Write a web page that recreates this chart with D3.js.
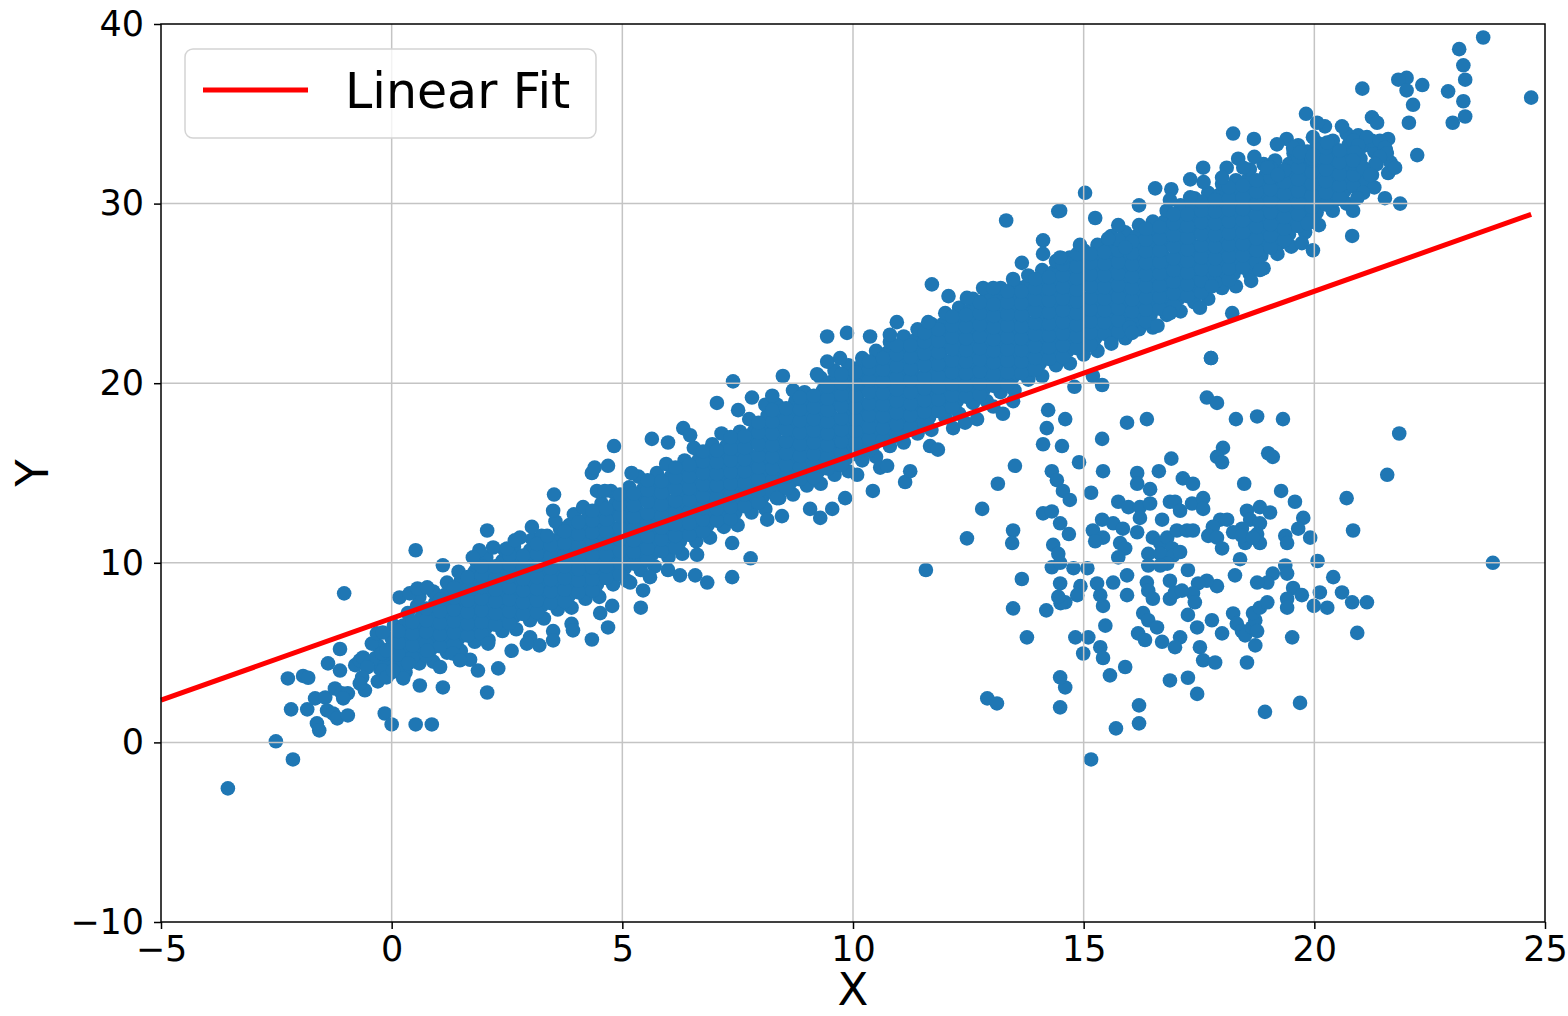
<!doctype html>
<html lang="en">
<head>
    <meta charset="utf-8">
    <title>Linear Fit</title>
	<style>
html, body {
	margin: 0;
	padding: 0;
	width: 100%;
	height: 100%;
	overflow: hidden;
	background-color: white;
	font-family: 'DejaVu Sans', 'Liberation Sans', sans-serif;
	color: #000;
}

#container {
	position: absolute;
	top: 0;
	right: 0;
	bottom: 0;
	left: 0;
}

svg {
	display: block;
}

svg .grid line {
	stroke: #c4c4c4;
	stroke-width: 1.5px;
}

svg .axis path {
	display: none;
}

svg .axis line {
	stroke: #000;
	stroke-width: 1.5px;
}

svg .axis text {
	font-family: 'DejaVu Sans';
	font-size: 35px;
	fill: #000;
}

svg circle {
	fill: #1f77b4;
}

svg .fit {
	stroke: #ff0000;
	stroke-width: 5px;
	fill: none;
}

svg .frame {
	fill: none;
	stroke: #000;
	stroke-width: 1.5px;
}

svg .label {
	font-family: 'DejaVu Sans';
	font-size: 45px;
	fill: #000;
}
	</style>
</head>
<body>
    <div id="container"></div>

	<script src="https://cdnjs.cloudflare.com/ajax/libs/d3/7.8.5/d3.min.js"></script>
	<script>
/* DATA */

var xDomain = [-5, 25];
var yDomain = [-10, 40];
var xTicks = [-5, 0, 5, 10, 15, 20, 25];
var yTicks = [-10, 0, 10, 20, 30, 40];
var xLabel = 'X';
var yLabel = 'Y';
var legendLabel = 'Linear Fit';

// fitted line, end points
var fitX = [-5, 24.7];
var fitY = [2.35, 29.4];

// dense part of the main band
var coreBand = [
[-0.3,3.4],[-0.25,4.1],[-0.35,4.7],[-0.3,5.4],
[0.0,3.9],[0.05,4.5],[-0.05,5.2],[0.0,5.8],[0.05,6.5],
[0.3,3.9],[0.25,4.6],[0.35,5.2],[0.3,5.9],[0.25,6.5],[0.35,7.2],
[0.6,4.4],[0.65,5.0],[0.55,5.7],[0.6,6.3],[0.65,7.0],[0.55,7.6],[0.6,8.1],
[0.9,4.5],[0.85,5.2],[0.95,5.8],[0.9,6.5],[0.85,7.1],[0.95,7.8],[0.9,8.4],
[1.2,5.0],[1.25,5.6],[1.15,6.3],[1.2,6.9],[1.25,7.6],[1.15,8.2],[1.2,8.9],
[1.5,5.1],[1.45,5.8],[1.55,6.4],[1.5,7.1],[1.45,7.7],[1.55,8.4],[1.5,9.0],[1.45,9.5],
[1.8,5.6],[1.85,6.2],[1.75,6.9],[1.8,7.5],[1.85,8.2],[1.75,8.8],[1.8,9.5],[1.85,10.0],
[2.1,5.7],[2.05,6.4],[2.15,7.0],[2.1,7.7],[2.05,8.3],[2.15,9.0],[2.1,9.6],[2.05,10.3],
[2.4,6.2],[2.45,6.8],[2.35,7.5],[2.4,8.1],[2.45,8.8],[2.35,9.4],[2.4,10.1],[2.45,10.7],
[2.7,6.3],[2.65,7.0],[2.75,7.6],[2.7,8.3],[2.65,8.9],[2.75,9.6],[2.7,10.2],[2.65,10.9],
[3.0,6.8],[3.05,7.4],[2.95,8.1],[3.0,8.7],[3.05,9.4],[2.95,10.0],[3.0,10.7],[3.05,11.3],
[3.3,6.9],[3.25,7.6],[3.35,8.2],[3.3,8.9],[3.25,9.5],[3.35,10.2],[3.3,10.8],[3.25,11.5],
[3.6,7.4],[3.65,8.0],[3.55,8.7],[3.6,9.3],[3.65,10.0],[3.55,10.6],[3.6,11.3],[3.65,11.9],[3.55,12.3],
[3.9,7.5],[3.85,8.2],[3.95,8.8],[3.9,9.5],[3.85,10.1],[3.95,10.8],[3.9,11.4],[3.85,12.1],[3.95,12.7],
[4.2,8.0],[4.25,8.6],[4.15,9.3],[4.2,9.9],[4.25,10.6],[4.15,11.2],[4.2,11.9],[4.25,12.5],[4.15,13.1],
[4.5,8.1],[4.45,8.8],[4.55,9.4],[4.5,10.1],[4.45,10.7],[4.55,11.4],[4.5,12.0],[4.45,12.7],[4.55,13.3],
[4.8,8.8],[4.85,9.4],[4.75,10.1],[4.8,10.7],[4.85,11.4],[4.75,12.0],[4.8,12.7],[4.85,13.3],[4.75,14.0],
[5.1,9.0],[5.05,9.7],[5.15,10.3],[5.1,11.0],[5.05,11.6],[5.15,12.3],[5.1,12.9],[5.05,13.6],[5.15,14.2],
[5.4,9.6],[5.45,10.2],[5.35,10.9],[5.4,11.5],[5.45,12.2],[5.35,12.8],[5.4,13.5],[5.45,14.1],[5.35,14.8],
[5.7,9.8],[5.65,10.5],[5.75,11.1],[5.7,11.8],[5.65,12.4],[5.75,13.1],[5.7,13.7],[5.65,14.4],[5.75,15.0],
[6.0,10.3],[6.05,10.9],[5.95,11.6],[6.0,12.2],[6.05,12.9],[5.95,13.5],[6.0,14.2],[6.05,14.8],[5.95,15.5],
[6.3,10.5],[6.25,11.2],[6.35,11.8],[6.3,12.5],[6.25,13.1],[6.35,13.8],[6.3,14.4],[6.25,15.1],[6.35,15.7],
[6.6,11.2],[6.65,11.8],[6.55,12.5],[6.6,13.1],[6.65,13.8],[6.55,14.4],[6.6,15.1],[6.65,15.7],[6.55,16.4],
[6.9,11.4],[6.85,12.1],[6.95,12.7],[6.9,13.4],[6.85,14.0],[6.95,14.7],[6.9,15.3],[6.85,16.0],[6.95,16.6],
[7.2,12.0],[7.25,12.6],[7.15,13.3],[7.2,13.9],[7.25,14.6],[7.15,15.2],[7.2,15.9],[7.25,16.5],[7.15,17.2],
[7.5,12.1],[7.45,12.8],[7.55,13.4],[7.5,14.1],[7.45,14.7],[7.55,15.4],[7.5,16.0],[7.45,16.7],[7.55,17.3],
[7.8,12.8],[7.85,13.4],[7.75,14.1],[7.8,14.7],[7.85,15.4],[7.75,16.0],[7.8,16.7],[7.85,17.3],[7.75,18.0],
[8.1,13.0],[8.05,13.7],[8.15,14.3],[8.1,15.0],[8.05,15.6],[8.15,16.3],[8.1,16.9],[8.05,17.6],[8.15,18.2],[8.1,18.8],
[8.4,13.6],[8.45,14.2],[8.35,14.9],[8.4,15.5],[8.45,16.2],[8.35,16.8],[8.4,17.5],[8.45,18.1],[8.35,18.8],
[8.7,13.8],[8.65,14.5],[8.75,15.1],[8.7,15.8],[8.65,16.4],[8.75,17.1],[8.7,17.7],[8.65,18.4],[8.75,19.0],[8.7,19.6],
[9.0,14.3],[9.05,14.9],[8.95,15.6],[9.0,16.2],[9.05,16.9],[8.95,17.5],[9.0,18.2],[9.05,18.8],[8.95,19.5],
[9.3,14.4],[9.25,15.1],[9.35,15.7],[9.3,16.4],[9.25,17.0],[9.35,17.7],[9.3,18.3],[9.25,19.0],[9.35,19.6],[9.3,20.3],
[9.6,14.9],[9.65,15.5],[9.55,16.2],[9.6,16.8],[9.65,17.5],[9.55,18.1],[9.6,18.8],[9.65,19.4],[9.55,20.1],[9.6,20.7],
[9.9,15.1],[9.85,15.8],[9.95,16.4],[9.9,17.1],[9.85,17.7],[9.95,18.4],[9.9,19.0],[9.85,19.7],[9.95,20.3],[9.9,21.0],
[10.2,15.7],[10.25,16.3],[10.15,17.0],[10.2,17.6],[10.25,18.3],[10.15,18.9],[10.2,19.6],[10.25,20.2],[10.15,20.9],[10.2,21.4],
[10.5,15.9],[10.45,16.6],[10.55,17.2],[10.5,17.9],[10.45,18.5],[10.55,19.2],[10.5,19.8],[10.45,20.5],[10.55,21.1],[10.5,21.8],
[10.8,16.5],[10.85,17.1],[10.75,17.8],[10.8,18.4],[10.85,19.1],[10.75,19.7],[10.8,20.4],[10.85,21.0],[10.75,21.7],[10.8,22.3],
[11.1,16.7],[11.05,17.4],[11.15,18.0],[11.1,18.7],[11.05,19.3],[11.15,20.0],[11.1,20.6],[11.05,21.3],[11.15,21.9],[11.1,22.6],
[11.4,17.2],[11.45,17.8],[11.35,18.5],[11.4,19.1],[11.45,19.8],[11.35,20.4],[11.4,21.1],[11.45,21.7],[11.35,22.4],[11.4,23.0],
[11.7,17.4],[11.65,18.1],[11.75,18.7],[11.7,19.4],[11.65,20.0],[11.75,20.7],[11.7,21.3],[11.65,22.0],[11.75,22.6],[11.7,23.3],
[12.0,18.1],[12.05,18.7],[11.95,19.4],[12.0,20.0],[12.05,20.7],[11.95,21.3],[12.0,22.0],[12.05,22.6],[11.95,23.3],[12.0,23.9],
[12.3,18.3],[12.25,19.0],[12.35,19.6],[12.3,20.3],[12.25,20.9],[12.35,21.6],[12.3,22.2],[12.25,22.9],[12.35,23.5],[12.3,24.2],
[12.6,18.9],[12.65,19.5],[12.55,20.2],[12.6,20.8],[12.65,21.5],[12.55,22.1],[12.6,22.8],[12.65,23.4],[12.55,24.1],[12.6,24.7],
[12.9,19.0],[12.85,19.7],[12.95,20.3],[12.9,21.0],[12.85,21.6],[12.95,22.3],[12.9,22.9],[12.85,23.6],[12.95,24.2],[12.9,24.9],
[13.2,19.5],[13.25,20.1],[13.15,20.8],[13.2,21.4],[13.25,22.1],[13.15,22.7],[13.2,23.4],[13.25,24.0],[13.15,24.7],[13.2,25.3],
[13.5,19.6],[13.45,20.3],[13.55,20.9],[13.5,21.6],[13.45,22.2],[13.55,22.9],[13.5,23.5],[13.45,24.2],[13.55,24.8],[13.5,25.5],
[13.8,20.2],[13.85,20.8],[13.75,21.5],[13.8,22.1],[13.85,22.8],[13.75,23.4],[13.8,24.1],[13.85,24.7],[13.75,25.4],[13.8,26.0],
[14.1,20.4],[14.05,21.1],[14.15,21.7],[14.1,22.4],[14.05,23.0],[14.15,23.7],[14.1,24.3],[14.05,25.0],[14.15,25.6],[14.1,26.3],
[14.4,21.0],[14.45,21.6],[14.35,22.3],[14.4,22.9],[14.45,23.6],[14.35,24.2],[14.4,24.9],[14.45,25.5],[14.35,26.2],[14.4,26.8],
[14.7,21.1],[14.65,21.8],[14.75,22.4],[14.7,23.1],[14.65,23.7],[14.75,24.4],[14.7,25.0],[14.65,25.7],[14.75,26.3],[14.7,27.0],
[15.0,21.6],[15.05,22.2],[14.95,22.9],[15.0,23.5],[15.05,24.2],[14.95,24.8],[15.0,25.5],[15.05,26.1],[14.95,26.8],[15.0,27.4],
[15.3,21.8],[15.25,22.5],[15.35,23.1],[15.3,23.8],[15.25,24.4],[15.35,25.1],[15.3,25.7],[15.25,26.4],[15.35,27.0],[15.3,27.7],
[15.6,22.4],[15.65,23.0],[15.55,23.7],[15.6,24.3],[15.65,25.0],[15.55,25.6],[15.6,26.3],[15.65,26.9],[15.55,27.6],[15.6,28.2],
[15.9,22.5],[15.85,23.2],[15.95,23.8],[15.9,24.5],[15.85,25.1],[15.95,25.8],[15.9,26.4],[15.85,27.1],[15.95,27.7],[15.9,28.4],
[16.2,23.0],[16.25,23.6],[16.15,24.3],[16.2,24.9],[16.25,25.6],[16.15,26.2],[16.2,26.9],[16.25,27.5],[16.15,28.2],[16.2,28.8],
[16.5,23.1],[16.45,23.8],[16.55,24.4],[16.5,25.1],[16.45,25.7],[16.55,26.4],[16.5,27.0],[16.45,27.7],[16.55,28.3],[16.5,29.0],
[16.8,23.8],[16.85,24.4],[16.75,25.1],[16.8,25.7],[16.85,26.4],[16.75,27.0],[16.8,27.7],[16.85,28.3],[16.75,29.0],[16.8,29.6],
[17.1,24.0],[17.05,24.7],[17.15,25.3],[17.1,26.0],[17.05,26.6],[17.15,27.3],[17.1,27.9],[17.05,28.6],[17.15,29.2],[17.1,29.9],
[17.4,24.5],[17.45,25.1],[17.35,25.8],[17.4,26.4],[17.45,27.1],[17.35,27.7],[17.4,28.4],[17.45,29.0],[17.35,29.7],[17.4,30.3],
[17.7,24.7],[17.65,25.4],[17.75,26.0],[17.7,26.7],[17.65,27.3],[17.75,28.0],[17.7,28.6],[17.65,29.3],[17.75,29.9],[17.7,30.6],
[18.0,25.3],[18.05,25.9],[17.95,26.6],[18.0,27.2],[18.05,27.9],[17.95,28.5],[18.0,29.2],[18.05,29.8],[17.95,30.5],[18.0,31.1],
[18.3,25.4],[18.25,26.1],[18.35,26.7],[18.3,27.4],[18.25,28.0],[18.35,28.7],[18.3,29.3],[18.25,30.0],[18.35,30.6],[18.3,31.3],
[18.6,26.1],[18.65,26.7],[18.55,27.4],[18.6,28.0],[18.65,28.7],[18.55,29.3],[18.6,30.0],[18.65,30.6],[18.55,31.3],[18.6,31.9],
[18.9,26.4],[18.85,27.1],[18.95,27.7],[18.9,28.4],[18.85,29.0],[18.95,29.7],[18.9,30.3],[18.85,31.0],[18.95,31.6],[18.9,32.2],
[19.2,27.2],[19.25,27.8],[19.15,28.5],[19.2,29.1],[19.25,29.8],[19.15,30.4],[19.2,31.1],[19.25,31.7],[19.15,32.4],
[19.5,27.6],[19.45,28.3],[19.55,28.9],[19.5,29.6],[19.45,30.2],[19.55,30.9],[19.5,31.5],[19.45,32.2],[19.55,32.8],
[19.8,28.4],[19.85,29.0],[19.75,29.7],[19.8,30.3],[19.85,31.0],[19.75,31.6],[19.8,32.3],[19.85,32.9],
[20.1,28.8],[20.05,29.5],[20.15,30.1],[20.1,30.8],[20.05,31.4],[20.15,32.1],[20.1,32.7],[20.05,33.4],
[20.4,29.6],[20.45,30.2],[20.35,30.9],[20.4,31.5],[20.45,32.2],[20.35,32.8],[20.4,33.5],
[20.7,30.0],[20.65,30.7],[20.75,31.3],[20.7,32.0],[20.65,32.6],[20.75,33.3],[20.7,33.9],
[21.0,30.6],[21.05,31.2],[20.95,31.9],[21.0,32.5],[21.05,33.2],[20.95,33.8],
[21.3,30.9],[21.25,31.6],[21.35,32.2],[21.3,32.9],[21.25,33.5],
[21.6,31.7],[21.65,32.3],[21.55,33.0],[21.6,33.6]
];

// points packed between the core columns, where the band reads as solid
var coreFill = [
[-0.15,4.25],[-0.15,4.9],
[0.15,4.25],[0.15,4.9],[0.15,5.55],[0.15,6.2],
[0.45,4.75],[0.45,5.4],[0.45,6.05],[0.45,6.7],
[0.75,4.85],[0.75,5.5],[0.75,6.15],[0.75,6.8],[0.75,7.45],
[1.05,5.35],[1.05,6.0],[1.05,6.65],[1.05,7.3],[1.05,7.95],
[1.35,5.45],[1.35,6.1],[1.35,6.75],[1.35,7.4],[1.35,8.05],[1.35,8.6],
[1.65,5.95],[1.65,6.6],[1.65,7.25],[1.65,7.9],[1.65,8.55],[1.65,9.2],
[1.95,6.05],[1.95,6.7],[1.95,7.35],[1.95,8.0],[1.95,8.65],[1.95,9.3],[1.95,9.8],
[2.25,6.55],[2.25,7.2],[2.25,7.85],[2.25,8.5],[2.25,9.15],[2.25,9.8],
[2.55,6.65],[2.55,7.3],[2.55,7.95],[2.55,8.6],[2.55,9.25],[2.55,9.9],[2.55,10.45],
[2.85,7.15],[2.85,7.8],[2.85,8.45],[2.85,9.1],[2.85,9.75],[2.85,10.4],
[3.15,7.25],[3.15,7.9],[3.15,8.55],[3.15,9.2],[3.15,9.85],[3.15,10.5],[3.15,11.05],
[3.45,7.75],[3.45,8.4],[3.45,9.05],[3.45,9.7],[3.45,10.35],[3.45,11.0],
[3.75,7.85],[3.75,8.5],[3.75,9.15],[3.75,9.8],[3.75,10.45],[3.75,11.1],[3.75,11.75],
[4.05,8.35],[4.05,9.0],[4.05,9.65],[4.05,10.3],[4.05,10.95],[4.05,11.6],[4.05,12.25],
[4.35,8.45],[4.35,9.1],[4.35,9.75],[4.35,10.4],[4.35,11.05],[4.35,11.7],[4.35,12.35],[4.35,12.9],
[4.65,9.15],[4.65,9.8],[4.65,10.45],[4.65,11.1],[4.65,11.75],[4.65,12.4],[4.65,13.0],
[4.95,9.35],[4.95,10.0],[4.95,10.65],[4.95,11.3],[4.95,11.95],[4.95,12.6],[4.95,13.25],[4.95,13.8],
[5.25,9.95],[5.25,10.6],[5.25,11.25],[5.25,11.9],[5.25,12.55],[5.25,13.2],[5.25,13.85],
[5.55,10.15],[5.55,10.8],[5.55,11.45],[5.55,12.1],[5.55,12.75],[5.55,13.4],[5.55,14.05],[5.55,14.6],
[5.85,10.65],[5.85,11.3],[5.85,11.95],[5.85,12.6],[5.85,13.25],[5.85,13.9],[5.85,14.55],
[6.15,10.85],[6.15,11.5],[6.15,12.15],[6.15,12.8],[6.15,13.45],[6.15,14.1],[6.15,14.75],[6.15,15.3],
[6.45,11.55],[6.45,12.2],[6.45,12.85],[6.45,13.5],[6.45,14.15],[6.45,14.8],[6.45,15.45],
[6.75,11.75],[6.75,12.4],[6.75,13.05],[6.75,13.7],[6.75,14.35],[6.75,15.0],[6.75,15.65],[6.75,16.2],
[7.05,12.35],[7.05,13.0],[7.05,13.65],[7.05,14.3],[7.05,14.95],[7.05,15.6],[7.05,16.25],
[7.35,12.45],[7.35,13.1],[7.35,13.75],[7.35,14.4],[7.35,15.05],[7.35,15.7],[7.35,16.35],[7.35,17.0],
[7.65,13.15],[7.65,13.8],[7.65,14.45],[7.65,15.1],[7.65,15.75],[7.65,16.4],[7.65,17.05],
[7.95,13.35],[7.95,14.0],[7.95,14.65],[7.95,15.3],[7.95,15.95],[7.95,16.6],[7.95,17.25],[7.95,17.8],
[8.25,13.95],[8.25,14.6],[8.25,15.25],[8.25,15.9],[8.25,16.55],[8.25,17.2],[8.25,17.85],[8.25,18.5],
[8.55,14.15],[8.55,14.8],[8.55,15.45],[8.55,16.1],[8.55,16.75],[8.55,17.4],[8.55,18.05],[8.55,18.6],
[8.85,14.65],[8.85,15.3],[8.85,15.95],[8.85,16.6],[8.85,17.25],[8.85,17.9],[8.85,18.55],[8.85,19.2],
[9.15,14.75],[9.15,15.4],[9.15,16.05],[9.15,16.7],[9.15,17.35],[9.15,18.0],[9.15,18.65],[9.15,19.3],
[9.45,15.25],[9.45,15.9],[9.45,16.55],[9.45,17.2],[9.45,17.85],[9.45,18.5],[9.45,19.15],[9.45,19.8],
[9.75,15.45],[9.75,16.1],[9.75,16.75],[9.75,17.4],[9.75,18.05],[9.75,18.7],[9.75,19.35],[9.75,20.0],[9.75,20.5],
[10.05,16.05],[10.05,16.7],[10.05,17.35],[10.05,18.0],[10.05,18.65],[10.05,19.3],[10.05,19.95],[10.05,20.6],
[10.35,16.25],[10.35,16.9],[10.35,17.55],[10.35,18.2],[10.35,18.85],[10.35,19.5],[10.35,20.15],[10.35,20.8],[10.35,21.2],
[10.65,16.85],[10.65,17.5],[10.65,18.15],[10.65,18.8],[10.65,19.45],[10.65,20.1],[10.65,20.75],[10.65,21.4],
[10.95,17.05],[10.95,17.7],[10.95,18.35],[10.95,19.0],[10.95,19.65],[10.95,20.3],[10.95,20.95],[10.95,21.6],[10.95,22.1],
[11.25,17.55],[11.25,18.2],[11.25,18.85],[11.25,19.5],[11.25,20.15],[11.25,20.8],[11.25,21.45],[11.25,22.1],
[11.55,17.75],[11.55,18.4],[11.55,19.05],[11.55,19.7],[11.55,20.35],[11.55,21.0],[11.55,21.65],[11.55,22.3],[11.55,22.8],
[11.85,18.45],[11.85,19.1],[11.85,19.75],[11.85,20.4],[11.85,21.05],[11.85,21.7],[11.85,22.35],[11.85,23.0],
[12.15,18.65],[12.15,19.3],[12.15,19.95],[12.15,20.6],[12.15,21.25],[12.15,21.9],[12.15,22.55],[12.15,23.2],[12.15,23.7],
[12.45,19.25],[12.45,19.9],[12.45,20.55],[12.45,21.2],[12.45,21.85],[12.45,22.5],[12.45,23.15],[12.45,23.8],
[12.75,19.35],[12.75,20.0],[12.75,20.65],[12.75,21.3],[12.75,21.95],[12.75,22.6],[12.75,23.25],[12.75,23.9],[12.75,24.5],
[13.05,19.85],[13.05,20.5],[13.05,21.15],[13.05,21.8],[13.05,22.45],[13.05,23.1],[13.05,23.75],[13.05,24.4],
[13.35,19.95],[13.35,20.6],[13.35,21.25],[13.35,21.9],[13.35,22.55],[13.35,23.2],[13.35,23.85],[13.35,24.5],[13.35,25.1],
[13.65,20.55],[13.65,21.2],[13.65,21.85],[13.65,22.5],[13.65,23.15],[13.65,23.8],[13.65,24.45],[13.65,25.1],
[13.95,20.75],[13.95,21.4],[13.95,22.05],[13.95,22.7],[13.95,23.35],[13.95,24.0],[13.95,24.65],[13.95,25.3],[13.95,25.8],
[14.25,21.35],[14.25,22.0],[14.25,22.65],[14.25,23.3],[14.25,23.95],[14.25,24.6],[14.25,25.25],[14.25,25.9],
[14.55,21.45],[14.55,22.1],[14.55,22.75],[14.55,23.4],[14.55,24.05],[14.55,24.7],[14.55,25.35],[14.55,26.0],[14.55,26.6],
[14.85,21.95],[14.85,22.6],[14.85,23.25],[14.85,23.9],[14.85,24.55],[14.85,25.2],[14.85,25.85],[14.85,26.5],
[15.15,22.15],[15.15,22.8],[15.15,23.45],[15.15,24.1],[15.15,24.75],[15.15,25.4],[15.15,26.05],[15.15,26.7],[15.15,27.2],
[15.45,22.75],[15.45,23.4],[15.45,24.05],[15.45,24.7],[15.45,25.35],[15.45,26.0],[15.45,26.65],[15.45,27.3],
[15.75,22.85],[15.75,23.5],[15.75,24.15],[15.75,24.8],[15.75,25.45],[15.75,26.1],[15.75,26.75],[15.75,27.4],[15.75,28.0],
[16.05,23.35],[16.05,24.0],[16.05,24.65],[16.05,25.3],[16.05,25.95],[16.05,26.6],[16.05,27.25],[16.05,27.9],
[16.35,23.45],[16.35,24.1],[16.35,24.75],[16.35,25.4],[16.35,26.05],[16.35,26.7],[16.35,27.35],[16.35,28.0],[16.35,28.6],
[16.65,24.15],[16.65,24.8],[16.65,25.45],[16.65,26.1],[16.65,26.75],[16.65,27.4],[16.65,28.05],[16.65,28.7],
[16.95,24.35],[16.95,25.0],[16.95,25.65],[16.95,26.3],[16.95,26.95],[16.95,27.6],[16.95,28.25],[16.95,28.9],[16.95,29.4],
[17.25,24.85],[17.25,25.5],[17.25,26.15],[17.25,26.8],[17.25,27.45],[17.25,28.1],[17.25,28.75],[17.25,29.4],
[17.55,25.05],[17.55,25.7],[17.55,26.35],[17.55,27.0],[17.55,27.65],[17.55,28.3],[17.55,28.95],[17.55,29.6],[17.55,30.1],
[17.85,25.65],[17.85,26.3],[17.85,26.95],[17.85,27.6],[17.85,28.25],[17.85,28.9],[17.85,29.55],[17.85,30.2],
[18.15,25.75],[18.15,26.4],[18.15,27.05],[18.15,27.7],[18.15,28.35],[18.15,29.0],[18.15,29.65],[18.15,30.3],[18.15,30.9],
[18.45,26.45],[18.45,27.1],[18.45,27.75],[18.45,28.4],[18.45,29.05],[18.45,29.7],[18.45,30.35],[18.45,31.0],
[18.75,26.75],[18.75,27.4],[18.75,28.05],[18.75,28.7],[18.75,29.35],[18.75,30.0],[18.75,30.65],[18.75,31.3],
[19.05,27.55],[19.05,28.2],[19.05,28.85],[19.05,29.5],[19.05,30.15],[19.05,30.8],[19.05,31.45],[19.05,32.0],
[19.35,27.95],[19.35,28.6],[19.35,29.25],[19.35,29.9],[19.35,30.55],[19.35,31.2],[19.35,31.85],
[19.65,28.75],[19.65,29.4],[19.65,30.05],[19.65,30.7],[19.65,31.35],[19.65,32.0],[19.65,32.6],
[19.95,29.15],[19.95,29.8],[19.95,30.45],[19.95,31.1],[19.95,31.75],[19.95,32.4],
[20.25,29.95],[20.25,30.6],[20.25,31.25],[20.25,31.9],[20.25,32.55],[20.25,33.1],
[20.55,30.35],[20.55,31.0],[20.55,31.65],[20.55,32.3],[20.55,32.95],
[20.85,30.95],[20.85,31.6],[20.85,32.25],[20.85,32.9],[20.85,33.5]
];

// sparse tail at the lower left
var leftTail = [
[-3.55,-2.56],[-2.51,0.06],[-2.14,-0.95],[-2.25,3.56],[-2.18,1.84],[-1.92,3.7],[-1.81,3.6],
[-1.83,1.84],[-1.66,2.45],[-1.44,2.5],[-1.62,1.06],[-1.57,0.67],[-1.4,1.78],[-1.27,1.61],
[-1.18,1.34],[-0.95,1.5],[-1.38,4.4],[-1.12,4.0],[-1.23,3.0],[-1.08,2.73],[-0.95,2.73],
[-1.05,2.45],[-1.03,8.3],[-1.12,5.2],[-0.79,4.3],[-0.69,4.57],[-0.62,4.73],[-0.53,4.18],
[-0.64,3.62],[-0.58,2.9],[-0.69,3.28],[-0.43,5.5],[-0.32,6.07],[-0.19,6.12],[-0.21,4.96],
[-0.11,5.12],[-0.19,4.0],[-0.11,3.62],[-0.15,1.61],[0.0,1.0],[0.52,1.0],[0.87,1.0],
[0.61,3.17],[1.11,3.06],[2.07,2.78],[2.31,4.12],[2.09,5.5],[1.87,4.0],[0.77,5.1],[1.05,4.2],
[1.7,4.6],[3.0,5.85],[3.5,6.2],[2.6,5.1],[3.2,5.4],[3.9,6.6],[4.34,5.73],[4.69,6.4],
[0.25,3.56],[0.03,4.0],[0.36,4.4],[1.33,4.95],[1.48,4.57],[2.93,5.5],[3.5,5.68],[3.93,6.24],
[0.52,10.7],[0.17,8.07],[0.39,8.3],[0.56,8.57],[0.77,8.63],[1.11,9.86],[2.07,11.8],
[1.9,10.7],[2.2,10.85],[2.5,10.8],[1.76,10.3]
];

// ragged lower edge of the band
var bandLower = [
[4.78,7.6],[4.52,7.2],[5.4,7.5],[5.45,8.46],[5.17,8.9],[5.6,9.2],[5.99,9.6],[6.25,9.3],
[6.58,9.3],[6.84,8.9],[7.38,9.2],[7.78,10.25],[6.62,10.45],[7.38,11.1],
[8.14,12.4],[8.46,12.6],[8.35,13.6],[9.07,13.0],[9.29,12.5],[9.55,13.0],[9.83,13.6],
[10.09,14.9],[10.43,14.0],[10.59,15.3],[10.74,15.4],[11.13,14.5],[11.24,15.1],[11.67,16.5],
[11.84,16.3],[12.17,17.5],[12.43,17.8],[12.69,18.0],[13.25,18.3],[13.47,19.0],[13.04,18.7],
[14.8,19.8],[15.4,19.9],[15.2,20.4],[15.6,22.2],[16.0,23.1],[16.05,22.8],[16.6,23.2],
[16.87,23.9],[17.52,24.2],[18.22,23.9],[17.76,21.4],
[18.63,25.7],[17.78,25.4],[18.82,26.3],[19.73,27.8],[19.86,28.9],[19.97,27.4],[20.82,28.2],[20.84,29.6]
];

// ragged upper edge of the band
var bandUpper = [
[4.82,16.5],[5.64,16.9],[4.69,15.4],[5.2,15.0],[5.99,16.7],[6.32,17.5],[6.47,17.1],[7.05,18.9],
[7.4,20.1],[7.51,18.5],[7.81,19.2],[8.25,19.3],[8.48,20.4],[9.22,20.5],[9.44,21.2],[9.72,21.4],
[9.87,22.8],[9.44,22.6],[10.37,22.6],[10.8,22.7],[10.95,23.4],[11.63,23.4],[12.07,24.85],[12.47,24.75],
[4.34,15.0],[4.4,15.3],[4.45,14.0],[4.62,14.0],[3.52,13.8],[3.5,12.9],[3.04,12.0],[2.78,11.4],
[2.67,11.25],[3.37,11.5],
[13.32,29.06],[14.45,29.57],[11.71,25.5],[12.82,25.3],[13.04,25.3],[13.66,26.7],[14.12,27.95],
[14.12,27.2],[14.53,26.95],[13.47,25.8],[14.86,27.2],
[16.2,29.9],[16.9,30.8],[17.6,31.2],[18.1,32.0],[18.7,32.6],[19.4,33.6]
];

// sparse top right end
var upperRight = [
[23.66,39.25],[23.14,38.6],[23.23,37.7],[23.27,36.9],[23.23,35.7],[23.27,34.85],[23.0,34.5],
[22.9,36.25],[24.7,35.9],[22.34,36.6],[22.14,35.5],[22.05,34.5],[22.23,32.7],[22.0,37.0],
[21.82,36.9],[22.0,36.3],[21.04,36.4],[21.75,32.0],[21.25,34.8],[21.36,34.5],[21.14,33.7],
[20.95,33.25],[21.42,33.5],[21.53,33.1],[21.57,32.8],[21.42,32.6],[21.32,32.2],[21.06,32.0],
[21.21,31.6],[20.88,32.85],[20.84,32.4],[21.53,30.3],[21.86,30.0],[21.06,30.6],[20.93,30.3],
[20.6,34.3],[20.23,34.3],[20.06,34.5],[19.82,35.0],[20.28,33.4],[19.97,33.7],[19.65,33.25],
[19.54,33.1],[19.69,32.85],[19.95,32.5],[18.24,33.9],[18.69,33.6],[19.19,33.3],[18.35,32.5],
[18.46,32.0],[18.98,32.0],[19.21,31.6],[17.59,32.0],[17.31,31.35],[18.0,31.45],[16.55,30.85],
[16.87,30.2],[15.03,30.6],[14.49,29.6],[15.25,29.2],[15.75,28.8],[15.53,28.05],[14.92,27.7],
[15.9,27.55],[14.49,27.0],[17.31,30.35],[19.97,32.7]
];

// second cloud below the fit line
var lowerCluster = [
[17.76,21.4],[17.67,19.2],[17.89,18.9],[14.6,18.0],[15.94,17.8],[16.37,18.0],[15.4,16.9],
[18.3,18.0],[18.76,18.15],[19.32,18.0],[21.84,17.2],[14.53,16.5],[18.02,16.4],[17.89,15.9],
[18.0,15.6],[19.0,16.1],[19.1,15.9],[14.9,15.6],[15.42,15.1],[16.16,15.0],[16.16,14.4],
[16.63,15.1],[16.9,15.8],[17.15,14.7],[17.37,14.4],[18.48,14.4],[21.58,14.9],[16.44,14.1],
[15.16,13.9],[19.28,14.0],[19.58,13.4],[20.7,13.6],
[15.75,13.4],[15.97,13.1],[16.22,13.1],[16.44,13.3],[16.7,12.4],[16.87,13.4],[16.98,13.4],
[17.09,12.9],[17.35,13.3],[17.59,13.6],[17.59,13.0],
[16.22,12.5],[15.4,12.4],[15.2,11.8],[15.42,11.4],[15.25,11.2],[15.64,12.2],[15.85,11.9],
[16.16,11.7],[15.79,11.1],[15.9,10.8],[14.68,11.6],[14.49,12.2],
[18.54,12.9],[18.82,13.1],[19.04,12.8],[18.61,12.4],[18.82,12.2],[18.43,11.9],[18.76,11.6],
[18.5,11.1],[18.82,11.1],[17.96,12.4],[18.11,12.4],[17.8,12.0],[17.7,11.5],[17.89,11.4],
[18.0,10.8],[18.24,11.7],[18.43,11.5],[18.67,11.4],
[19.37,11.5],[19.41,11.1],[19.76,12.5],[19.65,11.9],[19.91,11.4],[20.07,10.1],
[16.5,11.4],[16.66,11.1],[16.81,11.4],[17.02,11.8],[17.24,11.8],[17.37,11.8],[16.92,10.8],
[16.4,10.5],[16.66,10.5],[16.94,10.4],[17.09,10.6],[20.84,11.8],[23.87,10.0],
[20.41,9.2],[20.6,8.35],[20.82,7.8],[21.14,7.8],[20.12,8.35],[19.99,7.6],[20.28,7.5],
[20.93,6.1],[19.52,5.85],[19.69,2.2],[18.93,1.7],
[19.37,9.85],[19.41,9.4],[19.1,9.4],[18.98,8.9],[18.76,8.9],[19.54,8.6],[19.41,8.0],
[19.41,7.5],[19.73,8.2],
[18.39,10.2],[18.28,9.3],[17.89,8.7],[17.67,9.0],[17.48,8.85],[17.37,8.3],[17.41,7.8],
[17.26,7.1],[17.26,9.6],[16.87,9.0],[16.87,8.0],[16.98,8.35],[17.13,8.45],[16.37,8.9],
[16.4,8.45],[16.5,8.0],[16.29,7.2],[16.4,6.8],[16.59,6.4],[16.81,9.95],[16.4,9.85],[16.66,9.85],
[18.24,7.18],[18.32,6.6],[18.43,6.2],[18.5,5.96],[18.65,6.4],[18.72,6.8],[18.67,7.2],
[18.82,7.5],[18.98,7.8],[18.76,6.2],[18.72,5.4],[18.54,4.45],[18.0,6.07],[17.78,6.8],
[17.46,6.4],[17.52,5.3],[17.59,4.57],[17.85,4.45],[17.09,5.85],[16.98,5.3],[16.7,5.6],
[16.18,6.07],[16.33,5.7],[15.36,5.3],[15.42,4.7],[15.57,3.73],[15.9,4.2],[14.99,4.95],
[14.82,5.85],[15.1,5.85],[15.47,6.5],[15.42,7.6],[15.36,8.2],[15.64,8.9],[15.94,8.2],
[15.94,9.3],[15.75,10.3],[15.29,8.85],[14.93,8.7],[14.86,8.2],[14.6,7.8],[14.5,7.75],
[15.08,9.7],[14.78,9.7],
[16.87,3.45],[17.26,3.6],[17.46,2.7],[16.2,2.06],[16.2,1.06],[15.7,0.78],[15.16,-0.95],
[14.49,1.95],[14.6,3.06],[14.49,3.62],
[11.58,9.6],[13.66,9.1],[13.47,7.46],[14.19,7.35],[13.77,5.85],[12.91,2.45],[13.12,2.17],
[14.31,9.75],[14.49,10.0],[14.49,8.85],[14.45,8.1],
[12.47,11.36],[13.14,14.4],[12.8,13.0],[13.47,11.8],[13.45,11.1],[14.12,12.75],[14.31,12.86],
[14.34,11.0],[14.45,10.5],[13.51,15.4],[14.31,15.1],[14.42,14.6],[14.55,14.0],[14.7,13.5],
[14.12,16.6],[14.2,17.5],[14.23,18.5]
];

(function linearFit(d3) {

	'use strict';

	/* CONST */

	var WIDTH = 1568;
	var HEIGHT = 1016;

	var plot = {
		left: 161,
		top: 24,
		right: 1545,
		bottom: 922
	};

	var MARKER_R = 7.3;
	var TICK = 7;

	var x = d3.scaleLinear().domain(xDomain).range([plot.left, plot.right]);
	var y = d3.scaleLinear().domain(yDomain).range([plot.bottom, plot.top]);

	var points = [].concat(coreBand, coreFill, leftTail, bandLower, bandUpper, upperRight, lowerCluster);


	/* RENDER */

	var draw = function () {
		var svg = d3.select('#container')
			.append('svg')
				.attr('width', WIDTH)
				.attr('height', HEIGHT);

		// scatter first, grid goes on top of it like matplotlib does
		svg.append('g')
			.selectAll('circle')
			.data(points).enter()
			.append('circle')
			.attr('cx', function (d) { return x(d[0]); })
			.attr('cy', function (d) { return y(d[1]); })
			.attr('r', MARKER_R);

		var grid = svg.append('g').attr('class', 'grid');
		grid.selectAll('line.gx')
			.data(xTicks.slice(1, -1)).enter()
			.append('line')
			.attr('class', 'gx')
			.attr('x1', x).attr('x2', x)
			.attr('y1', plot.top).attr('y2', plot.bottom);
		grid.selectAll('line.gy')
			.data(yTicks.slice(1, -1)).enter()
			.append('line')
			.attr('class', 'gy')
			.attr('y1', y).attr('y2', y)
			.attr('x1', plot.left).attr('x2', plot.right);

		svg.append('path')
			.attr('class', 'fit')
			.attr('d', d3.line()([[x(fitX[0]), y(fitY[0])], [x(fitX[1]), y(fitY[1])]]));

		svg.append('rect')
			.attr('class', 'frame')
			.attr('x', plot.left)
			.attr('y', plot.top)
			.attr('width', plot.right - plot.left)
			.attr('height', plot.bottom - plot.top);

		svg.append('g')
			.attr('class', 'axis')
			.attr('transform', 'translate(0,' + plot.bottom + ')')
			.call(d3.axisBottom(x).tickValues(xTicks).tickSize(TICK).tickPadding(7));

		svg.append('g')
			.attr('class', 'axis')
			.attr('transform', 'translate(' + plot.left + ',0)')
			.call(d3.axisLeft(y).tickValues(yTicks).tickSize(TICK).tickPadding(10));

		svg.append('text')
			.attr('class', 'label')
			.attr('x', (plot.left + plot.right) / 2)
			.attr('y', 1005)
			.attr('text-anchor', 'middle')
			.text(xLabel);

		svg.append('text')
			.attr('class', 'label')
			.attr('transform', 'translate(48,' + (plot.top + plot.bottom) / 2 + ') rotate(-90)')
			.attr('text-anchor', 'middle')
			.text(yLabel);

		// legend
		var lg = svg.append('g');
		lg.append('rect')
			.attr('x', 185).attr('y', 49)
			.attr('width', 411).attr('height', 89)
			.attr('rx', 8)
			.attr('fill', 'white')
			.attr('fill-opacity', 0.8)
			.attr('stroke', '#d4d4d4')
			.attr('stroke-width', 1.5);
		lg.append('line')
			.attr('class', 'fit')
			.attr('x1', 203).attr('x2', 308)
			.attr('y1', 90).attr('y2', 90);
		lg.append('text')
			.attr('x', 345).attr('y', 108)
			.attr('font-size', 49)
			.attr('fill', '#000')
			.text(legendLabel);
	};

	draw();

})(window.d3);
	</script>
</body>
</html>
